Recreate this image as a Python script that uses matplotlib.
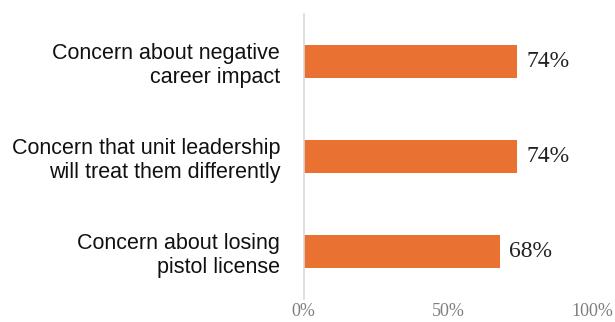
import matplotlib
matplotlib.use("Agg")
import matplotlib.pyplot as plt
from matplotlib.ticker import PercentFormatter

categories = [
    "Concern about negative\ncareer impact",
    "Concern that unit leadership\nwill treat them differently",
    "Concern about losing\npistol license",
]
values = [74, 74, 68]
ticks = [0, 50, 100]

fig = plt.figure(figsize=(6.15, 3.22), dpi=100)
ax = fig.add_axes([0.494, 0.072, 0.469, 0.885])

y = list(range(len(categories)))
bars = ax.barh(y, values, height=0.35, color="#E97132")
ax.set_ylim(2.5, -0.5)
ax.set_xlim(0, 100)

ax.set_yticks(y)
ax.set_yticklabels(categories, fontsize=15.5, family="Liberation Sans",
                   color="#111111", linespacing=1.2)
ax.set_xticks(ticks)
ax.xaxis.set_major_formatter(PercentFormatter(decimals=0))
for lbl in ax.get_xticklabels():
    lbl.set_family("Liberation Serif")
    lbl.set_fontsize(13)
    lbl.set_color("#7f7f7f")
ax.tick_params(axis="y", length=0, pad=17)
ax.tick_params(axis="x", length=0, pad=3)

for side in ["top", "right", "bottom"]:
    ax.spines[side].set_visible(False)
ax.spines["left"].set_color("#d9d9d9")
ax.spines["left"].set_linewidth(1.2)

for rect, v in zip(bars, values):
    ax.text(rect.get_width() + 3.3, rect.get_y() + rect.get_height() / 2,
            f"{v}%", va="center", ha="left", fontsize=17,
            family="Liberation Serif", color="#222222")

fig.savefig("out.png", dpi=100)
